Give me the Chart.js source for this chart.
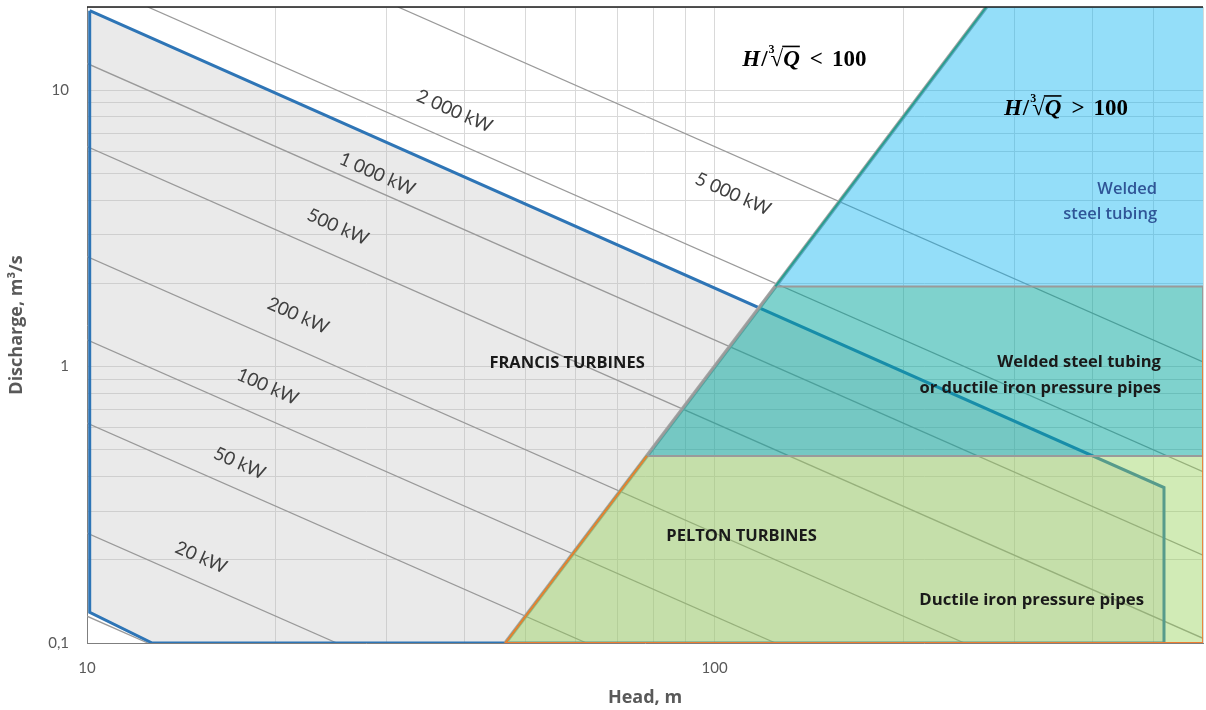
<!DOCTYPE html>
<html>
<head>
<meta charset="utf-8">
<script src="https://cdn.jsdelivr.net/npm/chart.js@4.4.1/dist/chart.umd.min.js"></script>
<style>
  body { margin: 0; background: #fff; }
  canvas { display: block; }
</style>
</head>
<body>
<canvas id="turbineChart" width="1206" height="710"></canvas>
<script>
'use strict';

// axis ticks (log scales)
const headTicks = [10, 20, 30, 40, 50, 60, 70, 80, 90, 100, 200, 300, 400, 500, 600];
const headLabels = { 10: '10', 100: '100' };
const flowTicks = [0.1, 0.2, 0.3, 0.4, 0.5, 0.6, 0.7, 0.8, 0.9, 1, 2, 3, 4, 5, 6, 7, 8, 9, 10, 20];
const flowLabels = { 0.1: '0,1', 1: '1', 10: '10' };

// constant power lines: entry / exit points (head m, discharge m3/s)
const powerKW = [10, 20, 50, 100, 200, 500, 1000, 2000, 5000];
const powerStart = [[10, 0.125], [10, 0.25], [10, 0.625], [10, 1.25], [10, 2.5], [10, 6.25], [10, 12.5], [12.5, 20], [31.3, 20]];
const powerEnd = [[12.5, 0.1], [25, 0.1], [62.5, 0.1], [125, 0.1], [250, 0.1], [600, 0.104], [600, 0.208], [600, 0.417], [600, 1.04]];
const powerLabelText = ['', '20 kW', '50 kW', '100 kW', '200 kW', '500 kW', '1 000 kW', '2 000 kW', '5 000 kW'];
const powerLabelAt = [null, [15.2, 0.204], [17.5, 0.447], [19.4, 0.847], [21.7, 1.53], [25.1, 3.2], [29.0, 4.97], [38.5, 8.4], [107, 4.21]];

// Francis turbine range (blue outline)
const francisHead = [10.1, 520, 520, 12.7, 10.1, 10.1];
const francisFlow = [19.4, 0.365, 0.1, 0.1, 0.129, 19.4];

// H / cbrt(Q) = 100 separator
const limitHead = [46.4, 78, 125, 271];
const limitFlow = [0.1, 0.475, 1.95, 20];

// pipe zones
const steelHead = [125, 271, 600, 600, 125];
const steelFlow = [1.95, 20, 20, 1.95, 1.95];
const mixedHead = [78, 125, 600, 600, 78];
const mixedFlow = [0.475, 1.95, 1.95, 0.475, 0.475];
const ductileHead = [46.4, 78, 600, 600, 46.4];
const ductileFlow = [0.1, 0.475, 0.475, 0.1, 0.1];
const peltonEdgeHead = [78, 46.4, 600, 600];
const peltonEdgeFlow = [0.475, 0.1, 0.1, 1.15];

// text notes, anchored in data coordinates
const zoneNotes = [
    { text: 'FRANCIS TURBINES', h: 58.2, q: 1.025, align: 'center', color: '#1a1a1a', size: 16.5, weight: 'bold' },
    { text: 'PELTON TURBINES', h: 110.4, q: 0.243, align: 'center', color: '#1a1a1a', size: 16.5, weight: 'bold' },
    { text: 'Ductile iron pressure pipes', h: 320, q: 0.143, align: 'center', color: '#1a1a1a', size: 16.8, weight: 'bold' },
    { text: 'Welded steel tubing', h: 514, q: 1.034, align: 'right', color: '#1a1a1a', size: 16.5, weight: 'bold' },
    { text: 'or ductile iron pressure pipes', h: 514, q: 0.833, align: 'right', color: '#1a1a1a', size: 16.5, weight: 'bold' },
    { text: 'Welded', h: 507, q: 4.39, align: 'right', color: '#2f5597', size: 16.5, weight: '600' },
    { text: 'steel tubing', h: 507, q: 3.57, align: 'right', color: '#2f5597', size: 16.5, weight: '600' }
];
const ratioNotes = [
    { sign: '<', h: 139, q: 12.9 },
    { sign: '>', h: 363, q: 8.54 }
];

function pts(hs, qs) {
    return hs.map((h, i) => ({ x: h, y: qs[i] }));
}

function lineSet(data, color, width, order) {
    return {
        data: data, showLine: true, fill: false, borderColor: color, borderWidth: width,
        pointRadius: 0, tension: 0, order: order
    };
}

function areaSet(data, color, order, edge, edgeWidth) {
    return {
        data: data, showLine: true, fill: 'shape', backgroundColor: color,
        borderColor: edge || 'rgba(0,0,0,0)', borderWidth: edgeWidth || 0,
        pointRadius: 0, tension: 0, order: order
    };
}

const datasets = [];
datasets.push(areaSet(pts(francisHead, francisFlow), 'rgba(185,185,185,0.3)', 30));
powerKW.forEach((p, i) => {
    datasets.push(lineSet([{ x: powerStart[i][0], y: powerStart[i][1] }, { x: powerEnd[i][0], y: powerEnd[i][1] }], '#9a9a9a', 1.3, 25));
});
datasets.push(lineSet(pts(francisHead, francisFlow), '#2e75b6', 3, 22));
datasets.push(lineSet(pts(limitHead, limitFlow), '#a6a6a6', 4, 20));
datasets.push(areaSet(pts(ductileHead, ductileFlow), 'rgba(146,208,80,0.42)', 18));
datasets.push(areaSet(pts(steelHead, steelFlow), 'rgba(0,176,240,0.42)', 17));
datasets.push(areaSet(pts(mixedHead, mixedFlow), 'rgba(0,166,156,0.5)', 16, '#9a9a9a', 2));
datasets.push(lineSet(pts(limitHead.slice(2), limitFlow.slice(2)), '#2a9d8f', 2, 14));
datasets.push(lineSet(pts(limitHead.slice(0, 2), limitFlow.slice(0, 2)), '#70ad47', 2, 13));
datasets.push(lineSet(pts(peltonEdgeHead, peltonEdgeFlow), '#ed7d31', 1.8, 12));

function drawRatio(ctx, cx, cy, sign) {
    const reg = 'bold 23px "Liberation Serif"';
    const ital = 'italic bold 23px "Liberation Serif"';
    const small = 'bold 12px "Liberation Serif"';
    const parts = [
        { t: 'H', f: ital, gap: 0 },
        { t: '/', f: reg, gap: 1 },
        { t: '3', f: small, gap: 1, dy: -10 },
        { t: '\u221A', f: reg, gap: -4 },
        { t: 'Q', f: ital, gap: 0, bar: true },
        { t: sign, f: reg, gap: 10 },
        { t: '100', f: reg, gap: 9 }
    ];
    let total = 0;
    parts.forEach(p => {
        ctx.font = p.f;
        p.w = ctx.measureText(p.t).width;
        total += p.gap + p.w;
    });
    let xx = cx - total / 2;
    ctx.fillStyle = '#000';
    ctx.textAlign = 'left';
    ctx.textBaseline = 'middle';
    parts.forEach(p => {
        xx += p.gap;
        ctx.font = p.f;
        ctx.fillText(p.t, xx, cy + (p.dy || 0));
        if (p.bar) {
            ctx.fillRect(xx - 1, cy - 14, p.w + 1, 1.6);
        }
        xx += p.w;
    });
}

const notesPlugin = {
    id: 'notes',
    afterDatasetsDraw(chart) {
        const { ctx, chartArea } = chart;
        const xs = chart.scales.x;
        const ys = chart.scales.y;
        ctx.save();

        // top frame line
        ctx.strokeStyle = '#1a1a1a';
        ctx.lineWidth = 1.5;
        ctx.beginPath();
        ctx.moveTo(chartArea.left, chartArea.top);
        ctx.lineTo(chartArea.right, chartArea.top);
        ctx.stroke();

        // power labels, rotated along the lines
        const ang = Math.atan2(ys.getPixelForValue(1) - ys.getPixelForValue(10), xs.getPixelForValue(100) - xs.getPixelForValue(10));
        ctx.font = '18.5px Lato';
        ctx.fillStyle = '#404040';
        ctx.textAlign = 'center';
        ctx.textBaseline = 'middle';
        powerLabelText.forEach((t, i) => {
            if (!t) return;
            ctx.save();
            ctx.translate(xs.getPixelForValue(powerLabelAt[i][0]), ys.getPixelForValue(powerLabelAt[i][1]));
            ctx.rotate(ang);
            ctx.fillText(t, 0, 0);
            ctx.restore();
        });

        // zone labels
        zoneNotes.forEach(n => {
            ctx.font = n.weight + ' ' + n.size + 'px "Open Sans"';
            ctx.fillStyle = n.color;
            ctx.textAlign = n.align;
            ctx.fillText(n.text, xs.getPixelForValue(n.h), ys.getPixelForValue(n.q));
        });

        ratioNotes.forEach(n => drawRatio(ctx, xs.getPixelForValue(n.h), ys.getPixelForValue(n.q), n.sign));
        ctx.restore();
    }
};

const tickFont = { family: 'Lato', size: 15 };
const titleFont = { family: 'Open Sans', size: 18, weight: 'bold' };

function noPad(s) {
    s.paddingLeft = 0;
    s.paddingRight = 0;
    s.paddingTop = 0;
    s.paddingBottom = 0;
}

new Chart(document.getElementById('turbineChart').getContext('2d'), {
    type: 'scatter',
    data: { datasets: datasets },
    options: {
        responsive: false,
        animation: false,
        layout: { padding: { top: 7, right: 3, left: 0, bottom: 0 } },
        plugins: { legend: { display: false }, tooltip: { enabled: false } },
        scales: {
            x: {
                type: 'logarithmic', min: 10, max: 600,
                afterBuildTicks: s => { s.ticks = headTicks.map(v => ({ value: v })); },
                afterFit: s => { s.height = 67; noPad(s); },
                grid: { color: '#d9d9d9', drawTicks: false },
                border: { color: '#7f7f7f' },
                ticks: {
                    autoSkip: false, maxRotation: 0, padding: 16, color: '#595959', font: tickFont,
                    callback: v => headLabels[v] || ''
                },
                title: { display: true, text: 'Head, m', color: '#595959', font: titleFont, padding: { top: 0, bottom: 1 } }
            },
            y: {
                type: 'logarithmic', min: 0.1, max: 20,
                afterBuildTicks: s => { s.ticks = flowTicks.map(v => ({ value: v })); },
                afterFit: s => { s.width = 87; noPad(s); },
                grid: { color: '#d9d9d9', drawTicks: false },
                border: { color: '#7f7f7f' },
                ticks: {
                    autoSkip: false, padding: 18, color: '#595959', font: tickFont,
                    callback: v => flowLabels[v] || ''
                },
                title: { display: true, text: 'Discharge, m\u00B3/s', color: '#595959', font: titleFont, padding: { top: 6, bottom: 0 } }
            }
        }
    },
    plugins: [notesPlugin]
});
</script>
</body>
</html>
